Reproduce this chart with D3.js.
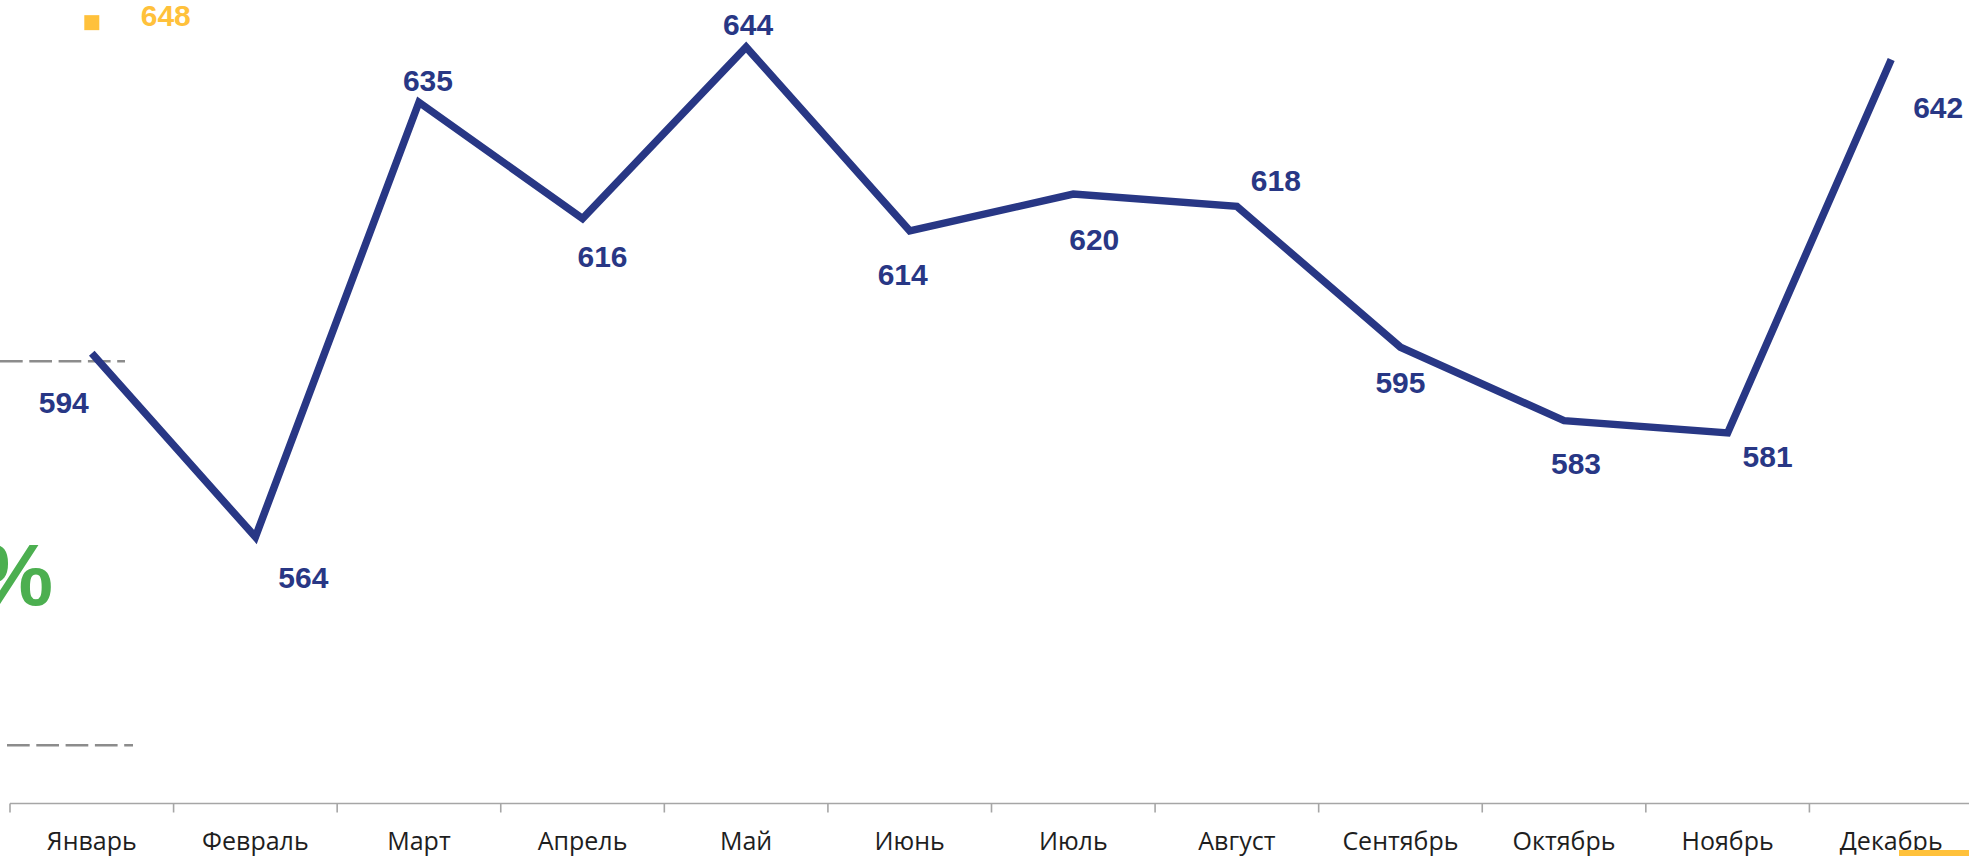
<!DOCTYPE html>
<html>
<head>
<meta charset="utf-8">
<script src="https://cdn.jsdelivr.net/npm/d3@7"></script>
<style>
  html, body { margin: 0; padding: 0; background: #fff; }
  svg { display: block; }
</style>
</head>
<body>
<svg id="chart" width="1969" height="856"></svg>
<script>
// ---- data ----
const months = ["Январь","Февраль","Март","Апрель","Май","Июнь","Июль","Август","Сентябрь","Октябрь","Ноябрь","Декабрь"];
const values = [594, 564, 635, 616, 644, 614, 620, 618, 595, 583, 581, 642];
const prevYearMonths = ["Январь"];
const prevYearValues = [648];
const refLineValues = [592.7, 530];
const percentText = "5%";

// ---- layout (label placement relative to each point, px) ----
const labelDx = [-28, 48, 9, 20, 2, -7, 21, 39, 0, 12, 40, 47];
const labelDy = [60, 51, -11, 48, -12, 54, 56, -15, 46, 53, 34, 59];

const W = 1969, H = 856;
const svg = d3.select("#chart");

const x = d3.scaleBand().domain(months).range([10, 1973]).padding(0);
const y = d3.scaleLinear().domain([520.4, 651.7]).range([804, 0]);

const blue = "#283785", yellow = "#FFC13B", green = "#4CAF50";

// reference dashed lines (partially visible)
const refX = [[0, 125], [7, 133]];
svg.selectAll("line.ref").data(refLineValues).join("line")
  .attr("class", "ref")
  .attr("x1", (d, i) => refX[i][0]).attr("x2", (d, i) => refX[i][1])
  .attr("y1", d => y(d)).attr("y2", d => y(d))
  .attr("stroke", "#8c8c8c").attr("stroke-width", 2.5)
  .attr("stroke-dasharray", "22.7,6.6");

// big green percent text (cropped at left)
svg.append("text")
  .attr("x", 53).attr("y", 605)
  .attr("text-anchor", "end")
  .attr("font-family", "Liberation Sans, Arial, sans-serif")
  .attr("font-weight", "bold").attr("font-size", 87)
  .attr("fill", green)
  .text(percentText);

// x axis
const axis = d3.axisBottom(x).tickSize(0).tickFormat("");
const gAxis = svg.append("g").attr("transform", "translate(0,803.5)").call(axis);
gAxis.select(".domain").attr("stroke", "#a6a6a6").attr("stroke-width", 1.6)
  .attr("d", `M10,0H${W + 10}`);
const tickPos = months.map(m => x(m)).concat([x.range()[1]]);
gAxis.selectAll("line.tk").data(tickPos).join("line")
  .attr("class", "tk")
  .attr("x1", d => d).attr("x2", d => d)
  .attr("y1", 0).attr("y2", 9)
  .attr("stroke", "#a6a6a6").attr("stroke-width", 1.6);
gAxis.selectAll("text.lbl").data(months).join("text")
  .attr("class", "lbl")
  .attr("x", d => x(d) + x.bandwidth() / 2)
  .attr("y", 46.5)
  .attr("text-anchor", "middle")
  .attr("font-family", "Open Sans, sans-serif")
  .attr("font-size", 25)
  .attr("fill", "#1e1e1e")
  .text(d => d);

// main line
const cx = d => x(d) + x.bandwidth() / 2;
const line = d3.line().x((d, i) => cx(months[i])).y(d => y(d));
svg.append("path")
  .datum(values)
  .attr("d", line)
  .attr("fill", "none")
  .attr("stroke", blue)
  .attr("stroke-width", 7.5)
  .attr("stroke-linejoin", "miter")
  .attr("stroke-linecap", "butt");

// data labels
svg.selectAll("text.val").data(values).join("text")
  .attr("class", "val")
  .attr("x", (d, i) => cx(months[i]) + labelDx[i])
  .attr("y", (d, i) => y(d) + labelDy[i])
  .attr("text-anchor", "middle")
  .attr("font-family", "Liberation Sans, Arial, sans-serif")
  .attr("font-weight", "bold")
  .attr("font-size", 30)
  .attr("fill", blue)
  .text(d => d);

// previous-year series marker
svg.selectAll("rect.prev").data(prevYearValues).join("rect")
  .attr("class", "prev")
  .attr("x", (d, i) => cx(prevYearMonths[i]) - 7.5)
  .attr("y", d => y(d) - 7.5)
  .attr("width", 15).attr("height", 15)
  .attr("fill", yellow);
svg.selectAll("text.prevlbl").data(prevYearValues).join("text")
  .attr("class", "prevlbl")
  .attr("x", (d, i) => cx(prevYearMonths[i]) + 74)
  .attr("y", d => y(d) + 3.5)
  .attr("text-anchor", "middle")
  .attr("font-family", "Liberation Sans, Arial, sans-serif")
  .attr("font-weight", "bold")
  .attr("font-size", 30)
  .attr("fill", yellow)
  .text(d => d);

// yellow element at bottom right (cropped)
svg.append("rect")
  .attr("x", 1899).attr("y", 850)
  .attr("width", 70).attr("height", 6)
  .attr("fill", yellow);
</script>
</body>
</html>
